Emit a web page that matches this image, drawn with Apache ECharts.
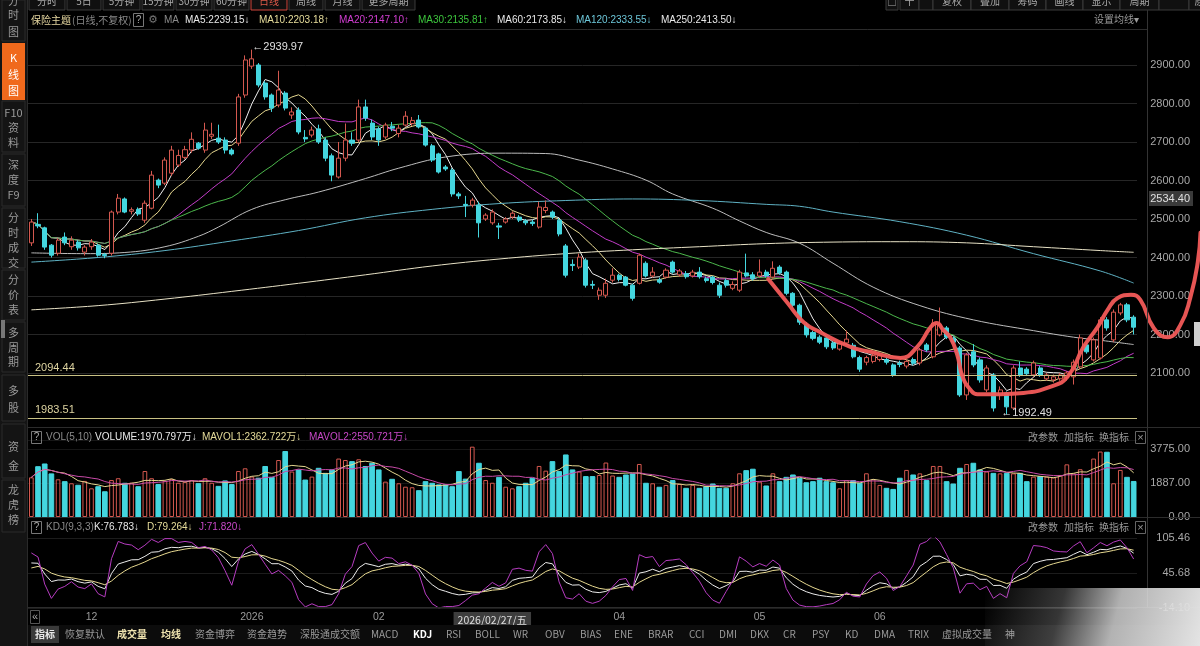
<!DOCTYPE html>
<html><head><meta charset="utf-8">
<script src="https://cdn.jsdelivr.net/npm/echarts@6/dist/echarts.min.js"></script>
<style>html,body{margin:0;padding:0;background:#000;}#c{width:1200px;height:646px;}</style>
</head><body><div id="c"></div>
<script>
// ---------- DATA ----------
// candles: [open, close, low, high]
const ohlc = [
[2438,2492,2430,2500],[2486,2482,2476,2515],[2477,2427,2420,2480],[2432,2406,2400,2435],[2411,2445,2405,2450],
[2453,2438,2432,2465],[2428,2445,2420,2455],[2440,2425,2418,2445],[2414,2427,2405,2432],[2428,2440,2420,2448],
[2432,2406,2402,2436],[2408,2405,2398,2412],[2411,2518,2405,2522],[2518,2554,2512,2565],[2552,2518,2515,2556],
[2520,2524,2512,2530],[2525,2513,2508,2530],[2497,2541,2490,2548],[2528,2614,2525,2625],[2601,2588,2580,2605],
[2593,2653,2588,2660],[2619,2679,2612,2690],[2640,2665,2635,2680],[2660,2680,2655,2690],[2679,2707,2672,2725],
[2697,2684,2680,2700],[2679,2731,2672,2750],[2715,2720,2708,2750],[2710,2700,2695,2745],[2705,2679,2670,2712],
[2679,2669,2665,2684],[2697,2817,2690,2825],[2822,2913,2815,2925],[2897,2916,2890,2939.97],[2900,2848,2842,2905],
[2853,2817,2810,2858],[2822,2788,2778,2826],[2796,2835,2790,2885],[2827,2788,2782,2832],[2770,2778,2760,2790],
[2783,2726,2720,2790],[2712,2708,2700,2731],[2718,2731,2712,2740],[2734,2700,2695,2745],[2705,2658,2650,2712],
[2664,2614,2598,2670],[2609,2658,2605,2700],[2658,2705,2650,2748],[2705,2697,2690,2725],[2705,2791,2700,2810],
[2791,2762,2755,2810],[2749,2713,2705,2758],[2734,2705,2690,2740],[2713,2744,2708,2750],[2741,2736,2728,2752],
[2722,2736,2712,2745],[2744,2767,2740,2780],[2748,2756,2742,2765],[2757,2739,2735,2770],[2736,2692,2688,2740],
[2690,2653,2648,2695],[2669,2622,2618,2672],[2635,2630,2625,2640],[2627,2565,2558,2632],[2565,2560,2552,2570],
[2538,2535,2505,2560],[2536,2549,2530,2555],[2536,2490,2452,2545],[2500,2510,2495,2515],[2490,2518,2485,2525],
[2482,2479,2448,2490],[2492,2500,2488,2505],[2505,2515,2500,2520],[2505,2497,2492,2510],[2495,2490,2484,2500],
[2492,2488,2482,2498],[2479,2531,2475,2545],[2522,2530,2515,2548],[2518,2505,2500,2522],[2497,2461,2455,2502],
[2430,2354,2348,2435],[2382,2379,2365,2395],[2375,2401,2370,2410],[2393,2328,2322,2398],[2330,2328,2318,2340],
[2302,2315,2290,2322],[2302,2333,2295,2345],[2341,2354,2335,2372],[2354,2343,2338,2358],[2349,2328,2325,2352],
[2328,2294,2288,2332],[2333,2406,2330,2410],[2385,2352,2348,2390],[2352,2362,2348,2375],[2342,2336,2332,2348],
[2349,2367,2345,2372],[2388,2362,2358,2392],[2355,2365,2350,2370],[2358,2350,2345,2365],[2352,2362,2348,2368],
[2362,2350,2345,2375],[2345,2340,2335,2350],[2349,2335,2330,2352],[2328,2302,2295,2335],[2340,2328,2322,2345],
[2320,2330,2315,2338],[2315,2362,2310,2368],[2360,2352,2348,2410],[2355,2345,2340,2362],[2352,2362,2348,2395],
[2362,2352,2348,2368],[2349,2372,2345,2390],[2375,2360,2355,2380],[2362,2307,2302,2366],[2307,2276,2270,2310],
[2276,2232,2225,2280],[2225,2199,2192,2232],[2205,2190,2185,2210],[2193,2180,2175,2198],[2191,2168,2162,2195],
[2178,2165,2160,2182],[2162,2175,2158,2182],[2178,2188,2172,2210],[2172,2142,2138,2178],[2140,2110,2103,2145],
[2128,2140,2120,2145],[2130,2145,2125,2150],[2135,2145,2130,2150],[2135,2128,2122,2140],[2121,2095,2090,2125],
[2125,2122,2115,2132],[2118,2130,2112,2135],[2135,2125,2120,2140],[2126,2160,2120,2165],[2173,2160,2155,2178],
[2142,2230,2138,2240],[2199,2225,2195,2270],[2217,2193,2188,2222],[2190,2180,2175,2195],[2165,2043,2038,2170],
[2043,2147,2030,2152],[2155,2121,2115,2175],[2134,2082,2075,2140],[2056,2113,2050,2120],[2095,2009,2000,2100],
[2043,2056,2030,2065],[2048,2012,1992.49,2052],[2009,2113,2005,2120],[2113,2095,2090,2130],[2110,2098,2092,2115],
[2095,2126,2090,2132],[2113,2095,2090,2118],[2085,2095,2080,2100],[2082,2090,2075,2096],[2085,2095,2080,2100],
[2088,2100,2080,2105],[2090,2128,2070,2135],[2116,2191,2110,2200],[2173,2155,2150,2178],[2134,2186,2130,2192],
[2139,2238,2135,2245],[2238,2217,2210,2245],[2186,2258,2180,2265],[2256,2277,2250,2282],[2277,2238,2232,2282],
[2245,2219,2200,2250]
];
// volume (万)
const volumes = [
2200,2790,2940,2390,2090,1960,1870,1760,2000,1590,1680,1400,2050,2150,1870,1900,1680,2550,2150,1800,
2000,2100,1900,1950,2050,1850,2150,1900,1700,2000,1800,2550,2700,2240,2150,2800,2200,3160,3630,2520,
2610,2050,2240,2700,2420,2610,3240,3160,3070,3200,2800,2980,2610,1960,2090,1870,1680,1650,1460,1960,
1870,1780,1780,1680,2520,2100,3900,2980,2050,1900,2200,1680,1590,1680,1870,2150,2830,2570,3070,2520,
3440,2610,2520,2240,2240,2330,3020,2300,2200,2330,2385,2940,1870,1870,1650,1780,2020,1830,1590,1780,
1590,1680,1830,1590,1590,1870,2424,2570,2650,1960,1720,2424,1960,2200,2330,2150,1900,1960,2150,1960,
1900,1590,2050,2020,1870,2424,2090,1780,1590,1530,2150,2610,2330,2420,2020,2830,2830,1960,1830,2700,
2940,2980,2610,2520,2420,2420,2420,2420,2420,1960,2240,2240,2240,2200,2330,2920,2420,2650,2150,3240,
3630,3590,1870,2610,2200,1970.8
];
// long moving averages: [candle index, value]
const ma60Pts = [[0,2412],[8,2410],[14,2413],[20,2428],[25,2455],[28,2479],[33,2525],[38,2550],[43,2570],[50,2605],[55,2632],[62,2661],[70,2671],[77,2670],[82,2653],[87,2630],[92,2601],[96,2565],[102,2528],[106,2495],[110,2465],[115,2437],[120,2385],[126,2323],[133,2275],[141,2238],[150,2210],[156,2193],[160,2185],[165,2173.85]];
const ma120Pts = [[0,2388],[10,2400],[20,2418],[30,2443],[40,2470],[50,2503],[60,2525],[70,2540],[80,2548],[90,2552],[100,2548],[110,2538],[115,2533],[120,2518],[130,2493],[140,2458],[150,2410],[160,2365],[165,2333.55]];
const ma250Pts = [[0,2264],[10,2275],[20,2292],[30,2312],[40,2333],[50,2355],[60,2378],[70,2396],[80,2410],[90,2420],[100,2428],[110,2436],[120,2440],[130,2441],[140,2438],[150,2428],[160,2418],[165,2413.5]];
// hand-drawn red annotation curve: [candle index, price]
const redCurve = [[110.3,2344],[113.2,2282],[115.6,2232],[118.1,2206],[122.6,2168],[125.6,2155],[130.1,2139],[132.6,2168],[134.6,2219],[135.5,2230],[136.5,2212],[137.6,2191],[138.6,2147],[139.4,2090],[140.6,2056],[141.6,2045],[145.1,2045],[148.5,2048],[152.5,2064],[155.1,2090],[157.5,2168],[159.6,2219],[161.1,2264],[162.6,2295],[164.6,2303],[166.0,2290],[168.0,2217],[170.1,2193],[172.0,2225],[173.5,2297],[174.6,2388],[175.0,2464]];
// date tick labels: [candle index, text]
const tickLabels = [[9,'12'],[33,'2026'],[52,'02'],[69,'2026/02/27/五'],[88,'04'],[109,'05'],[127,'06']];
const priceTicks = [2100,2200,2300,2400,2500,2600,2700,2800,2900];
const refLines = [2094.44, 1983.51];
const highPoint = [33, 2939.97];
const lowPoint = [146, 1992.49];
const lastPriceLabel = '2534.40';
const maHeader = [['MA5:2239.15↓','#e8e8e8',185],['MA10:2203.18↑','#e6dc9a',259],['MA20:2147.10↑','#d23ed2',339],['MA30:2135.81↑','#3cc43c',418],['MA60:2173.85↓','#e8e8e8',497],['MA120:2333.55↓','#6cc6d8',576],['MA250:2413.50↓','#e8e8e8',661]];
const volHeader = [['VOLUME:1970.797万↓','#e8e8e8',95],['MAVOL1:2362.722万↓','#e6dc9a',202],['MAVOL2:2550.721万↓','#c848c8',309]];
const kdjHeader = [['K:76.783↓','#e8e8e8',94],['D:79.264↓','#e6dc9a',147],['J:71.820↓','#c848c8',199]];

// ---------- derived ----------
const N = ohlc.length;
const cats = ohlc.map((_, i) => String(i));
const labelMap = {}; tickLabels.forEach(t => labelMap[t[0]] = t[1]);
const closes = ohlc.map(d => d[1]);
function movAvg(arr, n) {
  return arr.map((_, i) => { const s = Math.max(0, i - n + 1); let sum = 0; for (let t = s; t <= i; t++) sum += arr[t]; return +(sum / (i - s + 1)).toFixed(2); });
}
function kdj(d) {
  let K = 50, D = 50; const k = [], dd = [], j = [];
  for (let i = 0; i < d.length; i++) {
    const s = Math.max(0, i - 8); let lo = Infinity, hi = -Infinity;
    for (let t = s; t <= i; t++) { lo = Math.min(lo, d[t][2]); hi = Math.max(hi, d[t][3]); }
    const rsv = hi > lo ? (d[i][1] - lo) / (hi - lo) * 100 : 50;
    K = 2 / 3 * K + rsv / 3; D = 2 / 3 * D + K / 3;
    k.push(+K.toFixed(2)); dd.push(+D.toFixed(2)); j.push(+(3 * K - 2 * D).toFixed(2));
  }
  return [k, dd, j];
}
const [kLine, dLine, jLine] = kdj(ohlc);
const UP = '#d4584f', DOWN = '#44d6df';
const volData = volumes.map((v, i) => {
  const up = ohlc[i][1] >= ohlc[i][0];
  return { value: v, itemStyle: up ? { color: 'rgba(0,0,0,0)', borderColor: UP, borderWidth: 1 } : { color: DOWN, borderColor: DOWN } };
});

// ---------- layout ----------
const L = 28, R = 63;
const FF = '"Liberation Sans","Noto Sans CJK SC",sans-serif';
const FFC = '"Noto Sans CJK SC","Liberation Sans",sans-serif';
const g = [];
function T(x, y, text, fill, size, extra) {
  const al = (extra && extra.align) || 'left';
  g.push({ type: 'text', z: 50, style: { x: x, y: y, text: text, fill: fill, font: (extra && extra.bold ? 'bold ' : '') + (size || 11) + 'px ' + ((extra && extra.ff) || FF), textAlign: al, textVerticalAlign: 'middle', verticalAlign: 'middle', align: al } });
}
function Rc(x, y, w, h, fill, stroke, z) { g.push({ type: 'rect', z: z || 40, shape: { x: x, y: y, width: w, height: h }, style: { fill: fill, stroke: stroke || null, lineWidth: 1 } }); }
function Ln(x1, y1, x2, y2, c, z) { g.push({ type: 'line', z: z || 45, shape: { x1: x1, y1: y1, x2: x2, y2: y2 }, style: { stroke: c, lineWidth: 1 } }); }

// sidebar
Rc(0, 0, 27, 646, '#141414', null, 40);
Ln(27.5, 0, 27.5, 646, '#2a2a2a');
Rc(2, 43, 23, 57, '#f0691c', null, 41);
[[0, 41], [101, 152], [154, 206], [208, 268], [270, 320], [322, 372], [375, 421], [424, 478], [480, 532]].forEach(s => { Rc(2, s[0], 23, s[1] - s[0], null, '#2b2b2b', 41); });
const side = [[['分', 1], ['时', 15], ['图', 32]], [['K', 58], ['线', 75], ['图', 91]], [['F10', 113], ['资', 128], ['料', 143]], [['深', 165], ['度', 180], ['F9', 195]], [['分', 218], ['时', 233], ['成', 248], ['交', 263]], [['分', 280], ['价', 295], ['表', 310]], [['多', 333], ['周', 348], ['期', 362]], [['多', 391], ['股', 408]], [['资', 447], ['金', 466]], [['龙', 490], ['虎', 505], ['榜', 520]]];
side.forEach((sec, si) => sec.forEach(c => T(13.5, c[1], c[0], si === 1 ? '#ffffff' : '#9a9a9a', 11, { align: 'center', ff: FFC })));
Rc(1, 320, 4, 18, '#777', null, 42);
Rc(1194, 322, 6, 24, '#cfcfcf', null, 42);

// top toolbar (cut off)
const tabsL = [[29, 65, '分时'], [67, 101, '5日'], [103, 140, '5分钟'], [142, 174, '15分钟'], [176, 212, '30分钟'], [214, 249, '60分钟'], [251, 287, '日线'], [289, 323, '周线'], [325, 360, '月线'], [362, 415, '更多周期']];
tabsL.forEach(t => { Rc(t[0], -8, t[1] - t[0], 18, '#101010', t[2] === '日线' ? '#d0463c' : '#3a3a3a'); T((t[0] + t[1]) / 2, 1, t[2], t[2] === '日线' ? '#e05a4a' : '#aaaaaa', 10, { align: 'center', ff: FFC }); });
const tabsR = [[886, 898, '□'], [900, 919, '十'], [919, 933, ''], [933, 971, '复权'], [971, 1009, '叠加'], [1009, 1046, '筹码'], [1046, 1083, '画线'], [1083, 1120, '显示'], [1120, 1159, '周期'], [1159, 1189, ''], [1189, 1210, '原']];
tabsR.forEach(t => { Rc(t[0], -8, t[1] - t[0], 18, '#101010', '#3a3a3a'); T((t[0] + t[1]) / 2, 1, t[2], '#aaaaaa', 10, { align: 'center', ff: FFC }); });

// separators
Ln(28, 29.5, 1147, 29.5, '#2c2c2c');
Ln(28, 427.5, 1200, 427.5, '#2c2c2c');
Ln(28, 517.5, 1200, 517.5, '#2c2c2c');
Ln(28, 607.5, 1200, 607.5, '#2c2c2c');
Ln(1147.5, 10, 1147.5, 608, '#333333');

// main header
T(31, 20, '保险主题', '#e6d7a0', 10, { ff: FFC });
T(72, 20, '(日线,不复权)', '#8a8a8a', 10, { ff: FFC });
Rc(133.5, 13.5, 10, 13, null, '#777', 45); T(138.5, 20, '?', '#aaa', 10, { align: 'center' });
T(148, 20, '⚙', '#777', 11, { ff: '"DejaVu Sans",sans-serif' });
T(164, 20, 'MA', '#8a8a8a', 10);
maHeader.forEach(h => T(h[2], 20, h[0], h[1], 10));
T(1094, 19, '设置均线▾', '#9a9a9a', 10, { ff: FFC });

// volume header
Rc(31.5, 431.5, 10, 12, null, '#777', 45); T(36.5, 437.5, '?', '#aaa', 10, { align: 'center' });
T(46, 437.5, 'VOL(5,10)', '#8a8a8a', 10);
volHeader.forEach(h => T(h[2], 437.5, h[0], h[1], 10));
// kdj header
Rc(31.5, 521.5, 10, 12, null, '#777', 45); T(36.5, 527.5, '?', '#aaa', 10, { align: 'center' });
T(46, 527.5, 'KDJ(9,3,3)', '#8a8a8a', 10);
kdjHeader.forEach(h => T(h[2], 527.5, h[0], h[1], 10));
[437.5, 527.5].forEach(y => {
  T(1028, y, '改参数', '#9a9a9a', 10, { ff: FFC }); T(1064, y, '加指标', '#9a9a9a', 10, { ff: FFC }); T(1099, y, '换指标', '#9a9a9a', 10, { ff: FFC });
  Rc(1135.5, y - 6, 10, 12, null, '#666', 45); T(1140.5, y, '×', '#999', 11, { align: 'center' });
});
// last price label
Rc(1149, 191, 44, 15, '#3a3a3a', null, 45); T(1190, 198.5, lastPriceLabel, '#e0e0e0', 11, { align: 'right' });

// date row
Rc(30.5, 610.5, 9, 13, null, '#555', 45); T(35, 617, '«', '#aaa', 11, { align: 'center' });
// bottom tab bar
Rc(28, 625, 1172, 21, '#0c0c0c', null, 39);
Rc(31, 626, 28, 17, '#3a3a3a', null, 40);
const bottomTabs = [['指标', 31, '#e8e8e8', 1], ['恢复默认', 65, '#9a9a9a'], ['成交量', 117, '#f0e4b0', 1], ['均线', 161, '#f0e4b0', 1], ['资金博弈', 195, '#9a9a9a'], ['资金趋势', 247, '#9a9a9a'], ['深股通成交额', 300, '#9a9a9a'], ['MACD', 371, '#9a9a9a'], ['KDJ', 413, '#ffffff', 1], ['RSI', 446, '#9a9a9a'], ['BOLL', 475, '#9a9a9a'], ['WR', 513, '#9a9a9a'], ['OBV', 545, '#9a9a9a'], ['BIAS', 580, '#9a9a9a'], ['ENE', 614, '#9a9a9a'], ['BRAR', 648, '#9a9a9a'], ['CCI', 689, '#9a9a9a'], ['DMI', 719, '#9a9a9a'], ['DKX', 750, '#9a9a9a'], ['CR', 783, '#9a9a9a'], ['PSY', 812, '#9a9a9a'], ['KD', 845, '#9a9a9a'], ['DMA', 874, '#9a9a9a'], ['TRIX', 908, '#9a9a9a'], ['虚拟成交量', 942, '#9a9a9a'], ['神', 1005, '#9a9a9a']];
bottomTabs.forEach(t => T(t[0] === '指标' ? 45 : t[1], 634.5, t[0], t[2], 10, { ff: FFC, bold: !!t[3], align: t[0] === '指标' ? 'center' : 'left' }));
// bottom-right light smear
g.push({ type: 'rect', z: 100, shape: { x: 985, y: 588, width: 215, height: 58 }, style: { fill: { type: 'linear', x: 0, y: 0, x2: 1, y2: 1, colorStops: [{ offset: 0, color: 'rgba(215,215,215,0)' }, { offset: 0.35, color: 'rgba(215,215,215,0.25)' }, { offset: 0.6, color: 'rgba(220,220,220,0.8)' }, { offset: 1, color: 'rgba(228,228,228,1)' }] } } });

// ---------- chart ----------
const chart = echarts.init(document.getElementById('c'), null, { renderer: 'canvas' });
const OVER_MAX = -0.5 + (1200 - L) * N / (1200 - L - R);
const hidX = (gi) => ({ type: 'category', gridIndex: gi, data: cats, show: false, boundaryGap: true });
const lineS = (name, data, color, xi, yi, extra) => Object.assign({ name: name, type: 'line', data: data, xAxisIndex: xi, yAxisIndex: yi, symbol: 'none', showSymbol: false, lineStyle: { color: color, width: 1 }, itemStyle: { color: color }, silent: true, z: 3 }, extra || {});
const lblStyle = { color: '#a8a8a8', fontSize: 11, fontFamily: FF, align: 'right', margin: 53 };

chart.setOption({
  backgroundColor: '#000',
  animation: false,
  graphic: { elements: g },
  grid: [
    { left: L, right: R, top: 40, height: 380 },
    { left: L, right: R, top: 65, height: 308 },
    { left: L, right: R, top: 440, height: 77 },
    { left: L, right: R, top: 538, height: 70 },
    { left: L, right: 0, top: 40, height: 380 }
  ],
  xAxis: [
    hidX(0), hidX(1), hidX(2),
    { type: 'category', gridIndex: 3, data: cats, boundaryGap: true, axisLine: { show: false }, axisTick: { show: false },
      axisLabel: { interval: 0, color: '#9a9a9a', fontSize: 10.5, fontFamily: FF, margin: 4,
        formatter: (v) => { const s = labelMap[+v]; if (!s) return ''; return s.indexOf('/') >= 0 ? '{box|' + s + '}' : s; },
        rich: { box: { backgroundColor: '#3d3d3d', color: '#dddddd', padding: [3, 4, 2, 4], fontSize: 10.5, fontFamily: FFC } } } },
    { type: 'value', gridIndex: 4, min: -0.5, max: OVER_MAX, show: false }
  ],
  yAxis: [
    { type: 'value', gridIndex: 0, min: 1977.9, max: 2964.9, show: false, splitLine: { show: false } },
    { type: 'value', gridIndex: 1, position: 'right', min: priceTicks[0], max: priceTicks[priceTicks.length - 1], interval: 100,
      axisLine: { show: false }, axisTick: { show: false }, axisLabel: Object.assign({ formatter: v => v.toFixed(2) }, lblStyle),
      splitLine: { lineStyle: { color: '#262626', width: 1 } } },
    { type: 'value', gridIndex: 2, position: 'right', min: 0, max: 4270, interval: 1887.5,
      axisLine: { show: false }, axisTick: { show: false }, axisLabel: Object.assign({ showMaxLabel: false, formatter: v => Math.floor(v).toFixed(2) }, lblStyle),
      splitLine: { lineStyle: { color: '#161616' } } },
    { type: 'value', gridIndex: 3, position: 'right', min: -14.1, max: 105.47, interval: 59.78,
      axisLine: { show: false }, axisTick: { show: false }, axisLabel: Object.assign({ formatter: v => v.toFixed(2) }, lblStyle),
      splitLine: { lineStyle: { color: '#1c1c1c' } } },
    { type: 'value', gridIndex: 4, min: 1977.9, max: 2964.9, show: false, splitLine: { show: false } }
  ],
  series: [
    { name: 'K', type: 'candlestick', xAxisIndex: 0, yAxisIndex: 0, data: ohlc, barWidth: '68%', z: 4, silent: true,
      itemStyle: { color: '#000000', color0: DOWN, borderColor: UP, borderColor0: DOWN, borderWidth: 1 },
      markLine: { symbol: ['none', 'none'], silent: true, animation: false,
        data: refLines.map(v => ({ yAxis: v, lineStyle: { color: '#c9c184', type: 'solid', width: 1 },
          label: { show: true, position: 'insideStartTop', formatter: v.toFixed(2), color: '#ddd3a0', fontSize: 11, fontFamily: FF, distance: [7, 2] } })) },
      markPoint: { silent: true, animation: false, symbol: 'circle', symbolSize: 1,
        data: [
          { coord: highPoint, itemStyle: { color: 'rgba(0,0,0,0)' }, label: { show: true, position: 'right', distance: 0, offset: [0, -3], formatter: '←' + highPoint[1].toFixed(2), color: '#e0e0e0', fontSize: 11, fontFamily: FF } },
          { coord: lowPoint, itemStyle: { color: 'rgba(0,0,0,0)' }, label: { show: true, position: 'right', distance: 0, offset: [-6, -1], formatter: '←' + lowPoint[1].toFixed(2), color: '#e0e0e0', fontSize: 11, fontFamily: FF } }
        ] } },
    lineS('MA5', movAvg(closes, 5), '#f0f0f0', 0, 0),
    lineS('MA10', movAvg(closes, 10), '#e6d890', 0, 0),
    lineS('MA20', movAvg(closes, 20), '#c23cc8', 0, 0),
    lineS('MA30', movAvg(closes, 30), '#4cb84c', 0, 0),
    lineS('MA60', ma60Pts, '#bdbdbd', 0, 0, { smooth: 0.4 }),
    lineS('MA120', ma120Pts, '#5fb2c4', 0, 0, { smooth: 0.4 }),
    lineS('MA250', ma250Pts, '#e8e2c6', 0, 0, { smooth: 0.4 }),
    { name: 'VOL', type: 'bar', xAxisIndex: 2, yAxisIndex: 2, data: volData, barWidth: '70%', silent: true, z: 2 },
    lineS('MAVOL1', movAvg(volumes, 5), '#e6d890', 2, 2),
    lineS('MAVOL2', movAvg(volumes, 10), '#c84aa8', 2, 2),
    lineS('Kl', kLine, '#ececec', 3, 3),
    lineS('Dl', dLine, '#e6d890', 3, 3),
    lineS('Jl', jLine, '#b63cc0', 3, 3),
    { name: 'mark', type: 'line', xAxisIndex: 4, yAxisIndex: 4, data: redCurve, smooth: 0.5, symbol: 'none', clip: false, silent: true, z: 20,
      lineStyle: { color: '#f25a58', width: 4, opacity: 0.95, cap: 'round', join: 'round' } }
  ]
});
</script></body></html>
